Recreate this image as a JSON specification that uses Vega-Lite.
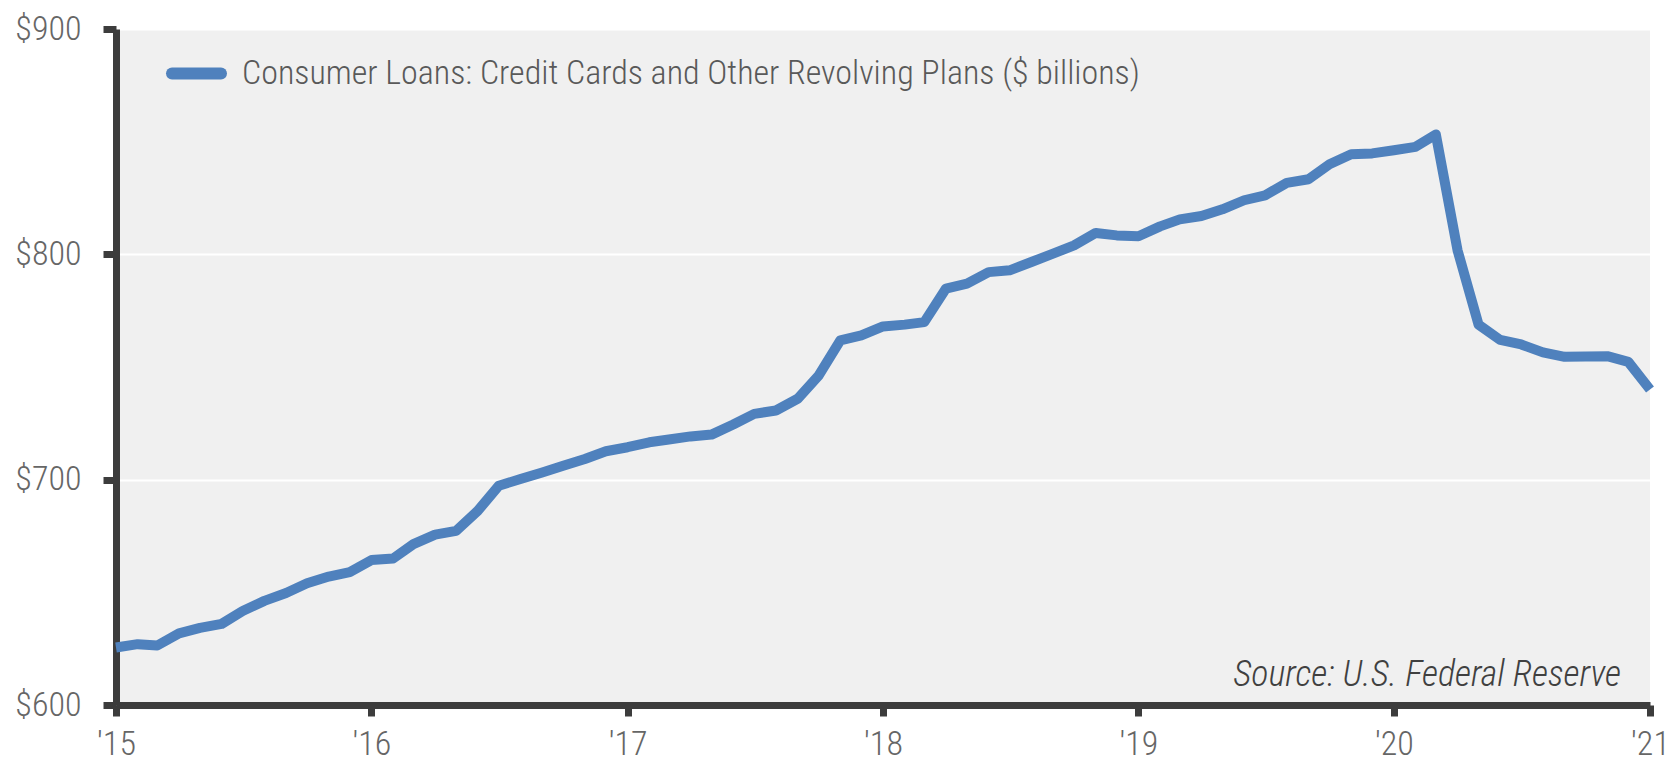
{
  "$schema": "https://vega.github.io/schema/vega-lite/v6.json",
  "autosize": {"type": "none"},
  "padding": {"left": 116, "top": 29, "right": 17, "bottom": 62},
  "width": 1534,
  "height": 676,
  "background": "#ffffff",
  "config": {
    "view": {"fill": "#f0f0f0", "stroke": null},
    "font": "Liberation Sans Narrow, Roboto Condensed, DejaVu Sans Condensed, Roboto, sans-serif"
  },
  "datasets": {
    "loans": [
      {"date": "2015-01-01", "value": 625.5},
      {"date": "2015-02-01", "value": 627.0},
      {"date": "2015-03-01", "value": 626.4},
      {"date": "2015-04-01", "value": 631.8},
      {"date": "2015-05-01", "value": 634.2},
      {"date": "2015-06-01", "value": 636.0},
      {"date": "2015-07-01", "value": 641.7},
      {"date": "2015-08-01", "value": 646.2},
      {"date": "2015-09-01", "value": 649.7},
      {"date": "2015-10-01", "value": 654.0},
      {"date": "2015-11-01", "value": 657.0},
      {"date": "2015-12-01", "value": 659.0},
      {"date": "2016-01-01", "value": 664.3},
      {"date": "2016-02-01", "value": 665.0},
      {"date": "2016-03-01", "value": 671.4},
      {"date": "2016-04-01", "value": 675.6},
      {"date": "2016-05-01", "value": 677.3},
      {"date": "2016-06-01", "value": 686.2},
      {"date": "2016-07-01", "value": 697.3},
      {"date": "2016-08-01", "value": 700.3},
      {"date": "2016-09-01", "value": 703.2},
      {"date": "2016-10-01", "value": 706.2},
      {"date": "2016-11-01", "value": 709.2},
      {"date": "2016-12-01", "value": 712.6},
      {"date": "2017-01-01", "value": 714.4},
      {"date": "2017-02-01", "value": 716.6},
      {"date": "2017-03-01", "value": 717.8},
      {"date": "2017-04-01", "value": 719.2},
      {"date": "2017-05-01", "value": 720.0},
      {"date": "2017-06-01", "value": 724.5},
      {"date": "2017-07-01", "value": 729.2},
      {"date": "2017-08-01", "value": 730.7},
      {"date": "2017-09-01", "value": 735.9},
      {"date": "2017-10-01", "value": 746.2},
      {"date": "2017-11-01", "value": 761.8},
      {"date": "2017-12-01", "value": 764.0},
      {"date": "2018-01-01", "value": 768.0},
      {"date": "2018-02-01", "value": 768.8},
      {"date": "2018-03-01", "value": 769.9},
      {"date": "2018-04-01", "value": 784.8},
      {"date": "2018-05-01", "value": 787.0},
      {"date": "2018-06-01", "value": 792.1},
      {"date": "2018-07-01", "value": 792.9},
      {"date": "2018-08-01", "value": 796.6},
      {"date": "2018-09-01", "value": 800.3},
      {"date": "2018-10-01", "value": 804.0},
      {"date": "2018-11-01", "value": 809.5},
      {"date": "2018-12-01", "value": 808.4},
      {"date": "2019-01-01", "value": 808.0},
      {"date": "2019-02-01", "value": 812.4},
      {"date": "2019-03-01", "value": 815.5},
      {"date": "2019-04-01", "value": 817.0},
      {"date": "2019-05-01", "value": 820.0},
      {"date": "2019-06-01", "value": 824.0},
      {"date": "2019-07-01", "value": 826.2},
      {"date": "2019-08-01", "value": 831.7},
      {"date": "2019-09-01", "value": 833.3},
      {"date": "2019-10-01", "value": 840.0},
      {"date": "2019-11-01", "value": 844.4},
      {"date": "2019-12-01", "value": 844.8},
      {"date": "2020-01-01", "value": 846.2},
      {"date": "2020-02-01", "value": 847.7},
      {"date": "2020-03-01", "value": 853.2},
      {"date": "2020-04-01", "value": 801.8},
      {"date": "2020-05-01", "value": 768.8},
      {"date": "2020-06-01", "value": 762.0},
      {"date": "2020-07-01", "value": 760.0},
      {"date": "2020-08-01", "value": 756.5},
      {"date": "2020-09-01", "value": 754.5},
      {"date": "2020-10-01", "value": 754.7},
      {"date": "2020-11-01", "value": 754.8},
      {"date": "2020-12-01", "value": 752.3},
      {"date": "2021-01-01", "value": 740.0}
    ],
    "notes": [{"note": "Source: U.S. Federal Reserve"}]
  },
  "layer": [
    {
      "data": {"name": "loans"},
      "mark": {"type": "line", "strokeWidth": 10, "strokeJoin": "round"},
      "encoding": {
        "x": {
          "field": "date",
          "type": "temporal",
          "scale": {
            "type": "utc",
            "domain": [
              {"year": 2015, "month": 1, "date": 1, "utc": true},
              {"year": 2021, "month": 1, "date": 1, "utc": true}
            ]
          },
          "axis": {
            "values": [
              {"year": 2015, "month": 1, "date": 1, "utc": true},
              {"year": 2016, "month": 1, "date": 1, "utc": true},
              {"year": 2017, "month": 1, "date": 1, "utc": true},
              {"year": 2018, "month": 1, "date": 1, "utc": true},
              {"year": 2019, "month": 1, "date": 1, "utc": true},
              {"year": 2020, "month": 1, "date": 1, "utc": true},
              {"year": 2021, "month": 1, "date": 1, "utc": true}
            ],
            "format": "'%y",
            "title": null,
            "grid": false,
            "labelFontSize": 34,
            "labelFontWeight": 300,
            "labelColor": "#666666",
            "labelPadding": 11,
            "labelFlush": false,
            "labelOverlap": false,
            "tickSize": 11,
            "tickWidth": 7,
            "tickColor": "#3c3c3c",
            "domainColor": "#3c3c3c",
            "domainWidth": 7
          }
        },
        "y": {
          "field": "value",
          "type": "quantitative",
          "scale": {"domain": [600, 900], "nice": false, "zero": false},
          "axis": {
            "values": [600, 700, 800, 900],
            "format": "$.0f",
            "title": null,
            "grid": true,
            "gridColor": "#ffffff",
            "gridWidth": 2,
            "labelFontSize": 34,
            "labelFontWeight": 300,
            "labelColor": "#666666",
            "labelPadding": 22,
            "tickSize": 13,
            "tickWidth": 7,
            "tickColor": "#3c3c3c",
            "domainColor": "#3c3c3c",
            "domainWidth": 7
          }
        },
        "color": {
          "datum": "Consumer Loans: Credit Cards and Other Revolving Plans ($ billions)",
          "type": "nominal",
          "scale": {"range": ["#4f81bd"]},
          "legend": {
            "orient": "none",
            "legendX": 50,
            "legendY": 14,
            "title": null,
            "padding": 0,
            "symbolType": "stroke",
            "symbolStrokeWidth": 12,
            "symbolSize": 2401,
            "symbolStrokeColor": "#4f81bd",
            "labelFontSize": 34,
            "labelFontWeight": 300,
            "labelColor": "#595959",
            "labelOffset": 15,
            "labelLimit": 2000,
            "encode": {"symbols": {"update": {"strokeCap": {"value": "round"}}}}
          }
        }
      }
    },
    {
      "data": {"name": "notes"},
      "mark": {
        "type": "text",
        "align": "right",
        "baseline": "alphabetic",
        "dx": -29,
        "dy": -19,
        "fontStyle": "italic",
        "fontWeight": 300,
        "fontSize": 36,
        "color": "#404040"
      },
      "encoding": {
        "x": {"datum": {"year": 2021, "month": 1, "date": 1, "utc": true}, "type": "temporal"},
        "y": {"datum": 600, "type": "quantitative"},
        "text": {"field": "note"}
      }
    }
  ]
}
